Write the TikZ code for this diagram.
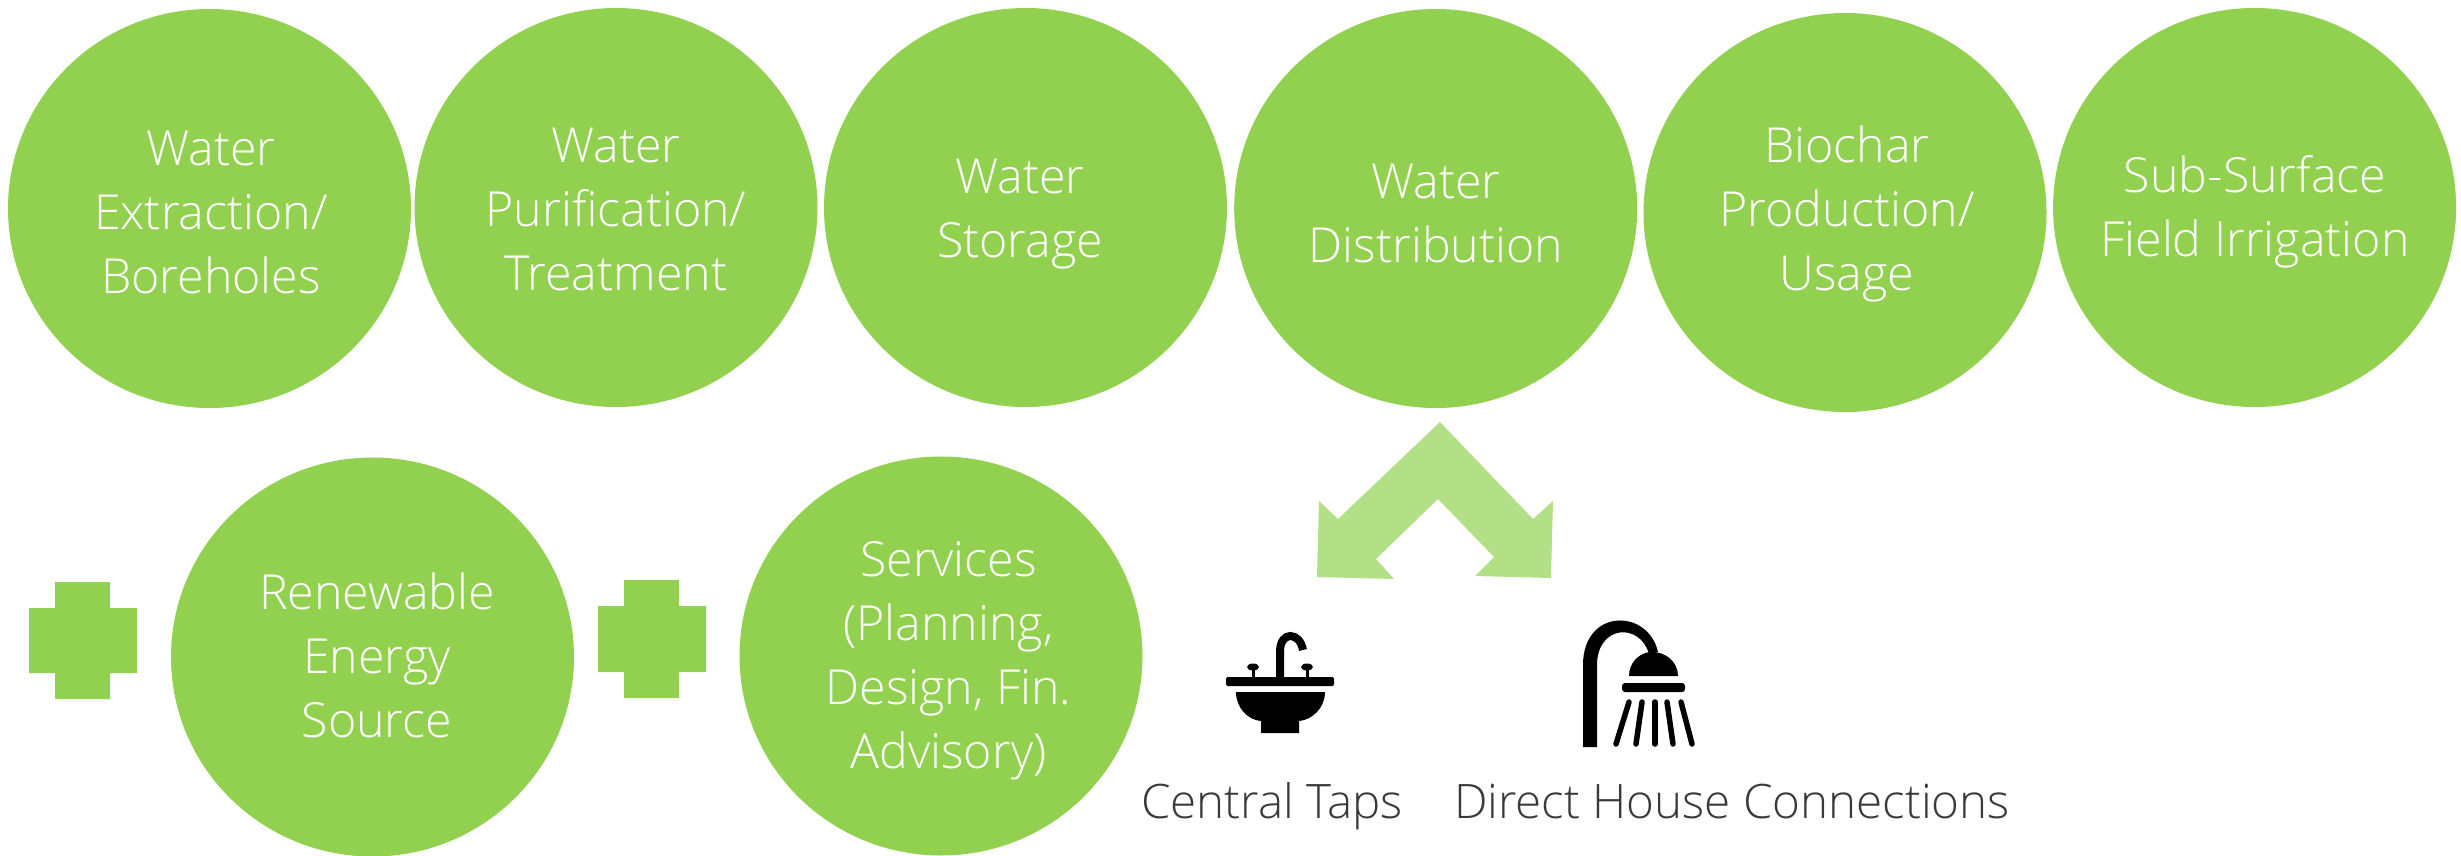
\documentclass[tikz,border=0pt]{standalone}
\usepackage{fontspec}
\setmainfont{Open Sans Light}
\definecolor{circ}{HTML}{92D050}
\definecolor{lite}{HTML}{B3E086}
\definecolor{lab}{HTML}{3B3838}
\tikzset{x=1pt,y=-1pt,
  disc/.style={fill=circ,draw=none},
  captxt/.style={text=white,align=center,font=\fontsize{48.3}{64}\selectfont,inner sep=0pt},
  lbl/.style={text=lab,font=\fontsize{47.5}{60}\selectfont,inner sep=0pt,anchor=base},
  plus/.style={fill=circ,draw=none},
  icon/.style={fill=black,draw=none},
  ray/.style={draw=black,line width=5.5pt,line cap=round}}
\begin{document}
\begin{tikzpicture}
\useasboundingbox (0,0) rectangle (2461,855);
\foreach \cx/\cy in {209.5/208.5,616/207.5,1025.5/207.5,1435.7/208.5,1845/212.5,2254.6/207.5,372.5/657,941/656}
  \path[disc] (\cx,\cy) ellipse [x radius=201.5, y radius=199.5];
\node[captxt] (ta) at (211,212) {Water\\Extraction/\\Boreholes};
\node[captxt] (tb) at (616,209) {Water\\Purification/\\Treatment};
\node[captxt] (tc) at (1020,214.5) {Water\\Storage};
\node[captxt] (td) at (1436,213) {Water\\Distribution};
\node[captxt] (te) at (1847,214) {Biochar\\Production/\\Usage};
\node[captxt] (tf) at (2255,212) {Sub-Surface\\Field Irrigation};
\node[captxt] (tg) at (377,655) {Renewable\\Energy\\Source};
\node[captxt] (th) at (948.5,660.5) {Services\\(Planning,\\Design, Fin.\\Advisory)};
\path[plus] (55,582)--(110,582)--(110,608)--(137,608)--(137,673)--(110,673)--(110,699)--(55,699)--(55,673)--(29,673)--(29,608)--(55,608)--cycle;
\path[plus] (624,580)--(679,580)--(679,606)--(706,606)--(706,672)--(679,672)--(679,698)--(624,698)--(624,672)--(598,672)--(598,606)--(624,606)--cycle;
\path[fill=lite] (1440,422)--(1533,519)--(1553,501)--(1551,578)--(1475,576)--(1494,557)--(1438,499)--(1376,559)--(1394,579)--(1317,577)--(1319,501)--(1338,519)--cycle;
% sink
\path[icon,rounded corners=2pt] (1226,677) rectangle (1334,686);
\path[icon] (1236,692)--(1325,692) .. controls (1325,708) and (1312,720) .. (1299,721)--(1299,733)--(1261,733)--(1261,721) .. controls (1248,720) and (1236,708) .. (1236,692)--cycle;
\draw[line width=8pt,black] (1280,678)--(1280,652) .. controls (1280,630) and (1300,632) .. (1303,650);
\draw[line width=3pt,black] (1253,667)--(1253,678);
\draw[line width=3pt,black] (1307,667)--(1307,678);
\fill[black] (1253,667) ellipse [x radius=6,y radius=3.5];
\fill[black] (1307,667) ellipse [x radius=6,y radius=3.5];
% shower
\path[icon] (1583,747)--(1583,665) .. controls (1583,608) and (1648,608) .. (1658,652)--(1649,654) .. controls (1640,622) and (1597,625) .. (1597,665)--(1597,747)--cycle;
\path[icon] (1629,676) .. controls (1629,662) and (1640,652) .. (1652,652) .. controls (1666,652) and (1678,662) .. (1678,676)--cycle;
\path[icon,rounded corners=3pt] (1622,683) rectangle (1685,692);
\foreach \x/\xx in {1629/1616,1642/1636,1655/1655,1667/1673,1681/1692}
  \draw[ray] (\x,702)--(\xx,744);
\node[lbl] (lt) at (1272,818) {Central Taps};
\node[lbl] (lh) at (1732,818) {Direct House Connections};
\end{tikzpicture}
\end{document}
